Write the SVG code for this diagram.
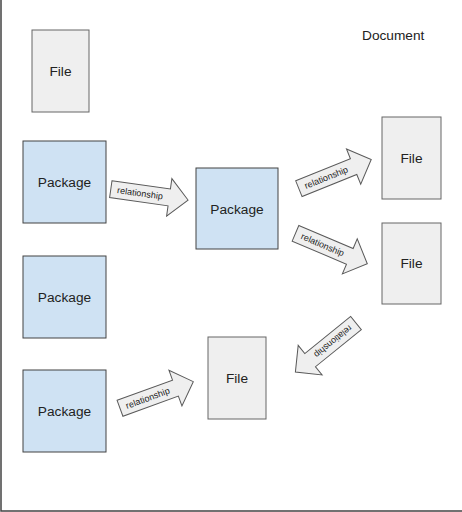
<svg xmlns="http://www.w3.org/2000/svg" width="462" height="512" viewBox="0 0 462 512">
<defs>
<style>
.file{fill:#efefef;stroke:#666;stroke-width:1}
.pkg{fill:#cfe2f3;stroke:#434343;stroke-width:1}
.lbl{font-family:"Liberation Sans",Arial,sans-serif;font-size:13.7px;fill:#222;text-anchor:middle}
.arr{fill:#efefef;stroke:#595959;stroke-width:1;stroke-linejoin:miter}
.al{font-family:"Liberation Sans",Arial,sans-serif;font-size:9px;fill:#222;text-anchor:middle}
</style>
<path id="blk" d="M0,-8.5 L59,-8.5 L59,-19 L78,0 L59,19 L59,8.5 L0,8.5 Z"/>
</defs>
<rect width="462" height="512" fill="#fff"/>
<path d="M1,0 V511 H462" fill="none" stroke="#434343" stroke-width="1.5"/>
<text x="362" y="40" font-family="Liberation Sans, Arial, sans-serif" font-size="13.7" fill="#222">Document</text>

<g id="file-top-left"><rect class="file" x="32" y="30" width="57" height="82"/><text class="lbl" x="60.5" y="76">File</text></g>
<g id="package-1"><rect class="pkg" x="23" y="141" width="83" height="82"/><text class="lbl" x="64.5" y="187">Package</text></g>
<g id="package-2"><rect class="pkg" x="23" y="256" width="83" height="82"/><text class="lbl" x="64.5" y="302">Package</text></g>
<g id="package-3"><rect class="pkg" x="23" y="370" width="83" height="82"/><text class="lbl" x="64.5" y="416">Package</text></g>
<g id="package-mid"><rect class="pkg" x="196" y="168" width="82" height="81"/><text class="lbl" x="237" y="214">Package</text></g>
<g id="file-right-1"><rect class="file" x="382" y="117" width="59" height="82"/><text class="lbl" x="411.5" y="163">File</text></g>
<g id="file-right-2"><rect class="file" x="382" y="223" width="59" height="81"/><text class="lbl" x="411.5" y="268">File</text></g>
<g id="file-bottom"><rect class="file" x="208" y="337" width="58" height="82"/><text class="lbl" x="237" y="383">File</text></g>

<g id="connectors">
<g transform="translate(110.8,189.2) rotate(8)"><use href="#blk" class="arr"/><text class="al" x="29.5" y="3">relationship</text></g>
<g transform="translate(298.9,188.7) rotate(-22)"><use href="#blk" class="arr"/><text class="al" x="29.5" y="3">relationship</text></g>
<g transform="translate(295.5,233.3) rotate(23)"><use href="#blk" class="arr"/><text class="al" x="29.5" y="3">relationship</text></g>
<g transform="translate(120,408.3) rotate(-20)"><use href="#blk" class="arr"/><text class="al" x="29.5" y="3">relationship</text></g>
<g transform="translate(356,323) rotate(141)"><use href="#blk" class="arr"/><text class="al" x="29.5" y="3">relationship</text></g>
</g>
</svg>
